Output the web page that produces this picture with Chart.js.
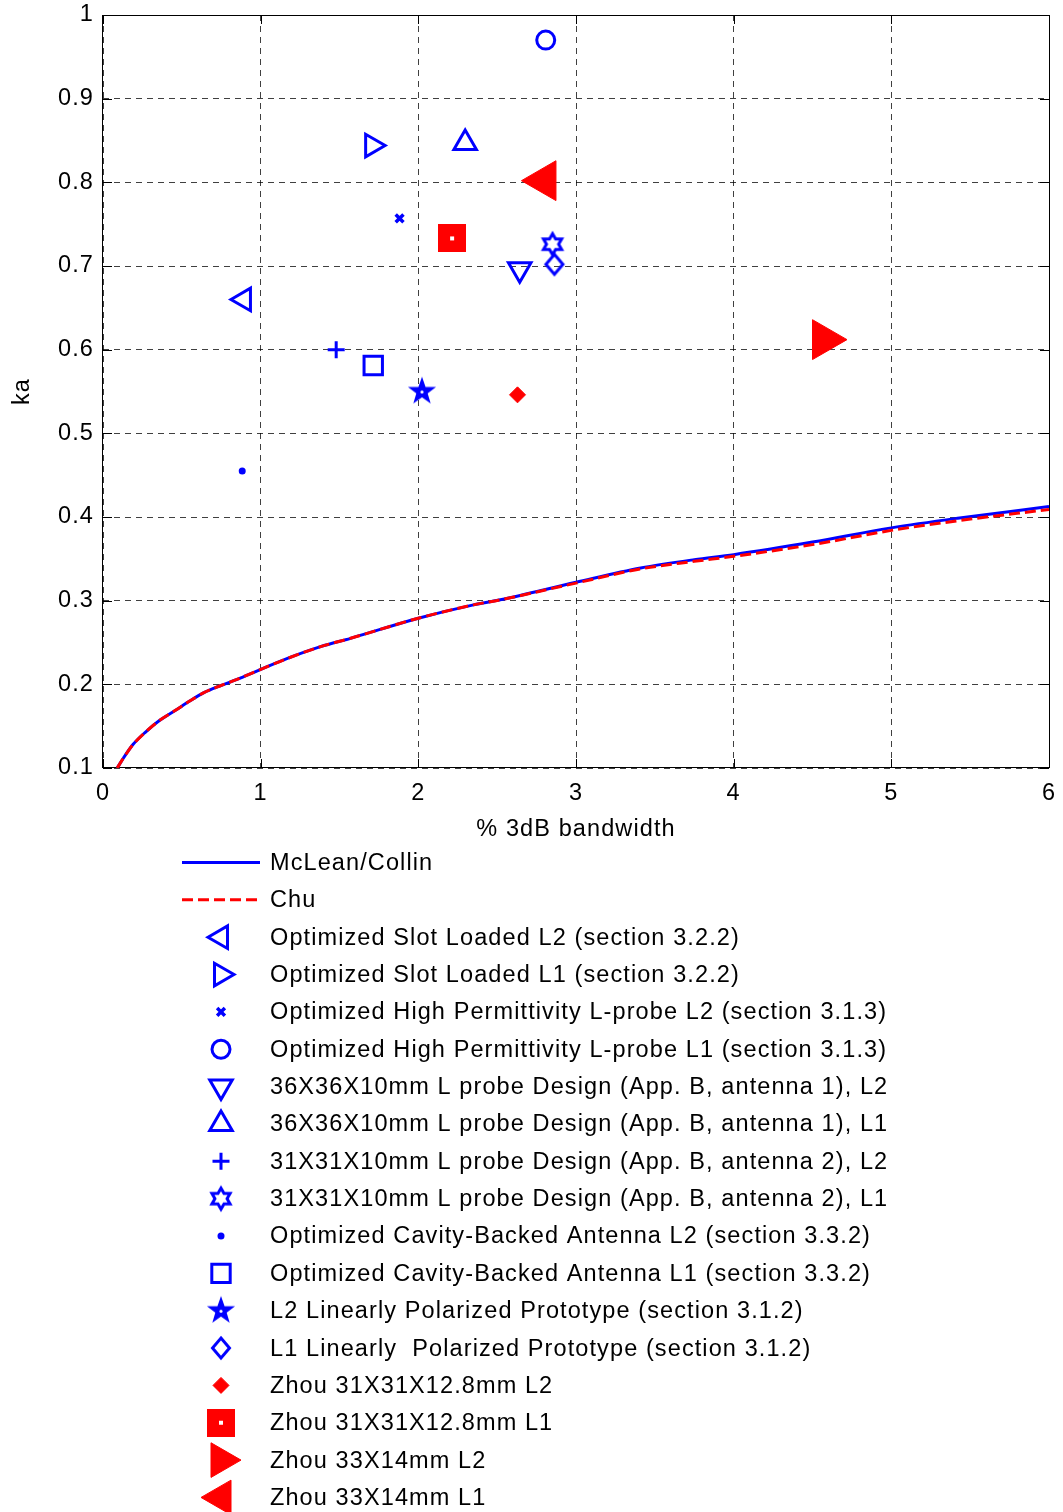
<!DOCTYPE html>
<html>
<head>
<meta charset="utf-8">
<script src="https://cdn.jsdelivr.net/npm/chart.js@4.4.1/dist/chart.umd.min.js"></script>
<style>
  body { margin: 0; background: #fff; }
  canvas { display: block; }
</style>
</head>
<body>
<canvas id="grafico" width="1063" height="1512"></canvas>
<script>
// curvas limite (% banda 3dB x ka)
const curveBw = [0.09, 0.13, 0.19, 0.27, 0.36, 0.46, 0.55, 0.64, 0.74, 0.85, 0.99, 1.17, 1.38, 1.57, 2.0, 2.35, 2.52, 3.0, 3.41, 3.75, 4.0, 4.5, 5.0, 5.42, 6.0];
const mcleanKa = [0.1, 0.112, 0.128, 0.143, 0.157, 0.169, 0.180, 0.190, 0.198, 0.206, 0.217, 0.231, 0.245, 0.255, 0.279, 0.295, 0.301, 0.322, 0.339, 0.349, 0.355, 0.370, 0.387, 0.3985, 0.4125];
const chuKa = [0.1, 0.112, 0.128, 0.143, 0.157, 0.169, 0.180, 0.190, 0.198, 0.206, 0.217, 0.231, 0.245, 0.255, 0.279, 0.295, 0.301, 0.321, 0.338, 0.347, 0.353, 0.367, 0.384, 0.3955, 0.409];

// antenas medidas
const antennaNames = [
    "Optimized Slot Loaded L2 (section 3.2.2)",
    "Optimized Slot Loaded L1 (section 3.2.2)",
    "Optimized High Permittivity L-probe L2 (section 3.1.3)",
    "Optimized High Permittivity L-probe L1 (section 3.1.3)",
    "36X36X10mm L probe Design (App. B, antenna 1), L2",
    "36X36X10mm L probe Design (App. B, antenna 1), L1",
    "31X31X10mm L probe Design (App. B, antenna 2), L2",
    "31X31X10mm L probe Design (App. B, antenna 2), L1",
    "Optimized Cavity-Backed Antenna L2 (section 3.3.2)",
    "Optimized Cavity-Backed Antenna L1 (section 3.3.2)",
    "L2 Linearly Polarized Prototype (section 3.1.2)",
    "L1 Linearly  Polarized Prototype (section 3.1.2)",
    "Zhou 31X31X12.8mm L2",
    "Zhou 31X31X12.8mm L1",
    "Zhou 33X14mm L2",
    "Zhou 33X14mm L1"
];
const antennaBw = [0.894, 1.707, 1.881, 2.808, 2.643, 2.297, 1.479, 2.851, 0.883, 1.714, 2.023, 2.863, 2.629, 2.214, 4.573, 2.80];
const antennaKa = [0.660, 0.844, 0.757, 0.970, 0.696, 0.847, 0.600, 0.726, 0.455, 0.581, 0.550, 0.702, 0.546, 0.733, 0.612, 0.802];

const AZUL = "#0000ff";
const VERMELHO = "#ff0000";
const FONTE = '"Liberation Sans", Arial, sans-serif';
const TAM_FONTE = 23.5;

// marcadores que o Chart.js nao tem
function criarMarcador(tamanho, desenhar) {
    const c = document.createElement("canvas");
    c.width = tamanho;
    c.height = tamanho;
    const g = c.getContext("2d");
    g.translate(tamanho / 2, tamanho / 2);
    desenhar(g);
    return c;
}

function estrela(g, pontas, rExt, rInt) {
    g.beginPath();
    for (let i = 0; i < pontas * 2; i++) {
        const r = i % 2 === 0 ? rExt : rInt;
        const a = -Math.PI / 2 + i * Math.PI / pontas;
        g.lineTo(r * Math.cos(a), r * Math.sin(a));
    }
    g.closePath();
}

const pentagrama = criarMarcador(40, g => {
    estrela(g, 5, 12.5, 5);
    g.fillStyle = AZUL;
    g.strokeStyle = AZUL;
    g.lineWidth = 1.5;
    g.fill();
    g.stroke();
    g.fillStyle = "#fff";
    g.beginPath();
    g.arc(0, 0.5, 1.6, 0, Math.PI * 2);
    g.fill();
});
const hexagrama = criarMarcador(40, g => {
    estrela(g, 6, 10.5, 6.06);
    g.strokeStyle = AZUL;
    g.lineWidth = 3;
    g.stroke();
});
const losango = criarMarcador(40, g => {
    g.beginPath();
    g.moveTo(0, -10);
    g.lineTo(8.5, 0);
    g.lineTo(0, 10);
    g.lineTo(-8.5, 0);
    g.closePath();
    g.strokeStyle = AZUL;
    g.lineWidth = 3;
    g.stroke();
});
const quadradoZhou = criarMarcador(28, g => {
    g.fillStyle = VERMELHO;
    g.fillRect(-14, -14, 28, 28);
    g.fillStyle = "#fff";
    g.fillRect(-2, -2, 4, 4);
});

const vazio = "rgba(0,0,0,0)";
const markerStyles = [
    { pointStyle: "triangle", rot: -90, r: 13, bw: 3, cor: AZUL, fundo: vazio },
    { pointStyle: "triangle", rot: 90, r: 13, bw: 3, cor: AZUL, fundo: vazio },
    { pointStyle: "crossRot", rot: 0, r: 5.5, bw: 3.5, cor: AZUL, fundo: vazio },
    { pointStyle: "circle", rot: 0, r: 9, bw: 3, cor: AZUL, fundo: vazio },
    { pointStyle: "triangle", rot: 180, r: 13, bw: 3, cor: AZUL, fundo: vazio },
    { pointStyle: "triangle", rot: 0, r: 13, bw: 3, cor: AZUL, fundo: vazio },
    { pointStyle: "cross", rot: 0, r: 8.5, bw: 3, cor: AZUL, fundo: vazio },
    { pointStyle: hexagrama, rot: 0, r: 10, bw: 0, cor: AZUL, fundo: vazio },
    { pointStyle: "circle", rot: 0, r: 3.5, bw: 0, cor: AZUL, fundo: AZUL },
    { pointStyle: "rect", rot: 0, r: 13, bw: 3, cor: AZUL, fundo: vazio },
    { pointStyle: pentagrama, rot: 0, r: 12, bw: 0, cor: AZUL, fundo: vazio },
    { pointStyle: losango, rot: 0, r: 10, bw: 0, cor: AZUL, fundo: vazio },
    { pointStyle: "rectRot", rot: 0, r: 8, bw: 1, cor: VERMELHO, fundo: VERMELHO },
    { pointStyle: quadradoZhou, rot: 0, r: 14, bw: 0, cor: VERMELHO, fundo: VERMELHO },
    { pointStyle: "triangle", rot: 90, r: 23, legR: 20, bw: 1, cor: VERMELHO, fundo: VERMELHO },
    { pointStyle: "triangle", rot: -90, r: 23, legR: 20, bw: 1, cor: VERMELHO, fundo: VERMELHO }
];

const datasets = [
    {
        label: "McLean/Collin",
        data: curveBw.map((x, i) => ({ x: x, y: mcleanKa[i] })),
        showLine: true,
        borderColor: AZUL,
        borderWidth: 3,
        pointRadius: 0,
        cubicInterpolationMode: "monotone",
        order: 2
    },
    {
        label: "Chu",
        data: curveBw.map((x, i) => ({ x: x, y: chuKa[i] })),
        showLine: true,
        borderColor: VERMELHO,
        borderWidth: 3,
        borderDash: [11, 5],
        pointRadius: 0,
        cubicInterpolationMode: "monotone",
        order: 1
    }
];

antennaNames.forEach((nome, i) => {
    const m = markerStyles[i];
    datasets.push({
        label: nome,
        data: [{ x: antennaBw[i], y: antennaKa[i] }],
        pointStyle: m.pointStyle,
        pointRotation: m.rot,
        pointRadius: m.r,
        pointBorderWidth: m.bw,
        pointBorderColor: m.cor,
        pointBackgroundColor: m.fundo,
        legendRadius: m.legR || m.r,
        order: 0
    });
});

// espacamento das letras como no original
const espacamentoPlugin = {
    id: "espacamento",
    beforeDraw(chart) {
        chart.ctx.letterSpacing = "1.1px";
    }
};

// caixa do grafico e marcas internas dos ticks (estilo MATLAB)
const caixaPlugin = {
    id: "caixa",
    beforeDatasetsDraw(chart) {
        const { ctx, chartArea: a, scales } = chart;
        ctx.save();
        ctx.strokeStyle = "#000";
        ctx.lineWidth = 1;
        ctx.setLineDash([]);
        ctx.beginPath();
        scales.x.ticks.forEach(t => {
            const px = Math.round(scales.x.getPixelForValue(t.value)) + 0.5;
            ctx.moveTo(px, a.bottom); ctx.lineTo(px, a.bottom - 9);
            ctx.moveTo(px, a.top); ctx.lineTo(px, a.top + 9);
        });
        scales.y.ticks.forEach(t => {
            const py = Math.round(scales.y.getPixelForValue(t.value)) + 0.5;
            ctx.moveTo(a.left, py); ctx.lineTo(a.left + 9, py);
            ctx.moveTo(a.right, py); ctx.lineTo(a.right - 9, py);
        });
        ctx.stroke();
        ctx.strokeRect(Math.round(a.left) - 0.5, Math.round(a.top) + 0.5, Math.round(a.right - a.left) + 1, Math.round(a.bottom - a.top) - 1);
        ctx.restore();
    }
};

// legenda em coluna abaixo do grafico
const legendaPlugin = {
    id: "legendaColuna",
    afterDraw(chart) {
        const ctx = chart.ctx;
        ctx.save();
        ctx.font = TAM_FONTE + "px " + FONTE;
        ctx.letterSpacing = "1.1px";
        ctx.textBaseline = "middle";
        chart.data.datasets.forEach((ds, i) => {
            const y = 862.5 + i * 37.35;
            if (ds.showLine) {
                ctx.strokeStyle = ds.borderColor;
                ctx.lineWidth = ds.borderWidth;
                ctx.setLineDash(ds.borderDash || []);
                ctx.beginPath();
                ctx.moveTo(182, y);
                ctx.lineTo(260, y);
                ctx.stroke();
            } else {
                ctx.setLineDash([]);
                ctx.strokeStyle = ds.pointBorderColor;
                ctx.fillStyle = ds.pointBackgroundColor;
                ctx.lineWidth = ds.pointBorderWidth;
                Chart.helpers.drawPoint(ctx, {
                    pointStyle: ds.pointStyle,
                    rotation: ds.pointRotation,
                    radius: ds.legendRadius,
                    borderWidth: ds.pointBorderWidth
                }, 221, y);
            }
            ctx.fillStyle = "#000";
            ctx.fillText(ds.label, 270, y + 1);
        });
        ctx.restore();
    }
};

const fonteEixo = { family: FONTE, size: TAM_FONTE };

new Chart(document.getElementById("grafico"), {
    type: "scatter",
    data: { datasets: datasets },
    options: {
        responsive: false,
        animation: false,
        events: [],
        layout: { autoPadding: false, padding: { left: 0, top: 15, right: 14, bottom: 664 } },
        plugins: {
            legend: { display: false },
            tooltip: { enabled: false }
        },
        scales: {
            x: {
                type: "linear",
                min: 0,
                max: 6,
                ticks: { stepSize: 1, color: "#000", font: fonteEixo, padding: 11, maxRotation: 0 },
                grid: { color: "rgba(0,0,0,0.75)", lineWidth: 1, drawTicks: false },
                border: { display: false, dash: [6, 5] },
                title: { display: true, text: "% 3dB bandwidth", color: "#000", font: fonteEixo, padding: { top: 0, bottom: 4 } },
                afterFit: s => {
                    s.height = 80;
                    s.paddingLeft = 0;
                    s.paddingRight = 0;
                }
            },
            y: {
                type: "linear",
                min: 0.1,
                max: 1,
                ticks: {
                    stepSize: 0.1,
                    color: "#000",
                    font: fonteEixo,
                    padding: 9,
                    callback: v => String(Number(v.toFixed(1)))
                },
                grid: { color: "rgba(0,0,0,0.75)", lineWidth: 1, drawTicks: false },
                border: { display: false, dash: [6, 5] },
                title: { display: true, text: "ka", color: "#000", font: fonteEixo, padding: { top: 8, bottom: 0 } },
                afterFit: s => {
                    s.width = 103;
                    s.paddingTop = 0;
                    s.paddingBottom = 0;
                }
            }
        }
    },
    plugins: [espacamentoPlugin, caixaPlugin, legendaPlugin]
});
</script>
</body>
</html>
